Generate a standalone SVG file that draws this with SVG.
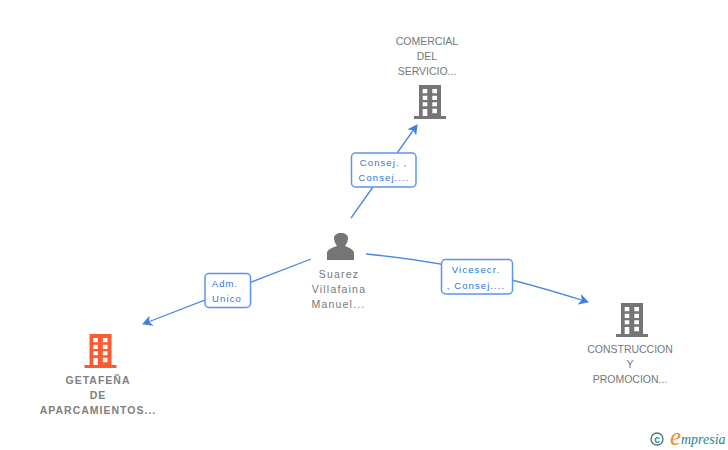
<svg xmlns="http://www.w3.org/2000/svg" width="728" height="450" viewBox="0 0 728 450">
<defs>
<style>
text{font-family:"Liberation Sans",Arial,sans-serif}
.n{font-size:10.5px;fill:#777;text-anchor:middle}
.p{letter-spacing:1.2px}
.b{font-weight:bold;letter-spacing:1px;fill:#808080}
.l{font-size:9.5px;fill:#2f74e0;text-anchor:middle;letter-spacing:1.1px}
.c{fill:none;stroke:#4a88e4;stroke-width:1.3}
.box{fill:#fff;stroke:#5b95ea;stroke-width:1.5}
</style>
<marker id="a" viewBox="0 0 12 12" refX="10" refY="6" markerWidth="11" markerHeight="11" markerUnits="userSpaceOnUse" orient="auto"><path d="M0 0L11 6L0 12L3 6Z" fill="#3f80e0"/></marker>
<path id="bld" fill-rule="evenodd" d="M5 0H27V31H32V34H0V31H5ZM8.700 4V8.300H13.300V4ZM18.300 4V8.300H23V4ZM8.700 10.700V15H13.300V10.700ZM18.300 10.700V15H23V10.700ZM8.700 17.300V21.300H13.300V17.300ZM18.300 17.300V21.300H23V17.300ZM8.700 24V31H13.300V24ZM18.300 23.700V28.300H23V23.700Z"/>
</defs>
<rect width="728" height="450" fill="#fff"/>
<g id="connectors">
<path class="c" d="M351 218L417 125" marker-end="url(#a)"/>
<path class="c" d="M311 259L143 324" marker-end="url(#a)"/>
<path class="c" d="M366 254C420 259 480 268 588 302" marker-end="url(#a)"/>
</g>
<g id="label-top"><rect class="box" x="351.500" y="153" width="64.500" height="34" rx="4"/><text class="l" x="383.500" y="166">Consej. ,</text><text class="l" x="384" y="181">Consej....</text></g>
<g id="label-left"><rect class="box" x="205" y="273.500" width="45.500" height="34" rx="4"/><text class="l" x="225" y="287">Adm.</text><text class="l" x="227" y="302">Unico</text></g>
<g id="label-right"><rect class="box" x="441.500" y="259.500" width="71" height="34.500" rx="4"/><text class="l" x="476" y="273">Vicesecr.</text><text class="l" x="476" y="288.500">, Consej....</text></g>
<g id="node-top"><use href="#bld" x="414" y="85" fill="#757575"/><text class="n" x="427" y="45">COMERCIAL</text><text class="n" x="427" y="60">DEL</text><text class="n" x="427" y="75">SERVICIO...</text></g>
<g id="node-person"><path fill="#757575" d="M327 260V253C327 250 331 248 337 246C335 243 334 241 334 238C334 235 337 233 341 233C345 233 348 235 348 238C348 241 347 243 345 246C350 248 354 250 354 253V260Z"/><text class="n p" x="339" y="278">Suarez</text><text class="n p" x="339" y="293">Villafaina</text><text class="n p" x="338.500" y="308">Manuel...</text></g>
<g id="node-left"><use href="#bld" x="84.500" y="334" fill="#fb5b2e"/><text class="n b" x="98" y="384">GETAFEÑA</text><text class="n b" x="98" y="399">DE</text><text class="n b" x="98" y="414">APARCAMIENTOS...</text></g>
<g id="node-right"><use href="#bld" x="616" y="303" fill="#757575"/><text class="n" x="630" y="353">CONSTRUCCION</text><text class="n" x="630" y="368">Y</text><text class="n" x="630" y="383">PROMOCION...</text></g>
<g id="logo"><circle cx="657" cy="439" r="6" fill="none" stroke="#3d7f8f" stroke-width="1.400"/><text x="657" y="442.500" font-size="10" font-weight="bold" fill="#3d7f8f" text-anchor="middle">c</text><text x="670" y="445" font-size="25" font-style="italic" fill="#f08a24" style="font-family:'Liberation Serif',serif">e</text><text x="681" y="444" font-size="14" font-style="italic" fill="#2f7f8f" style="font-family:'Liberation Serif',serif">mpresia</text></g>
</svg>
